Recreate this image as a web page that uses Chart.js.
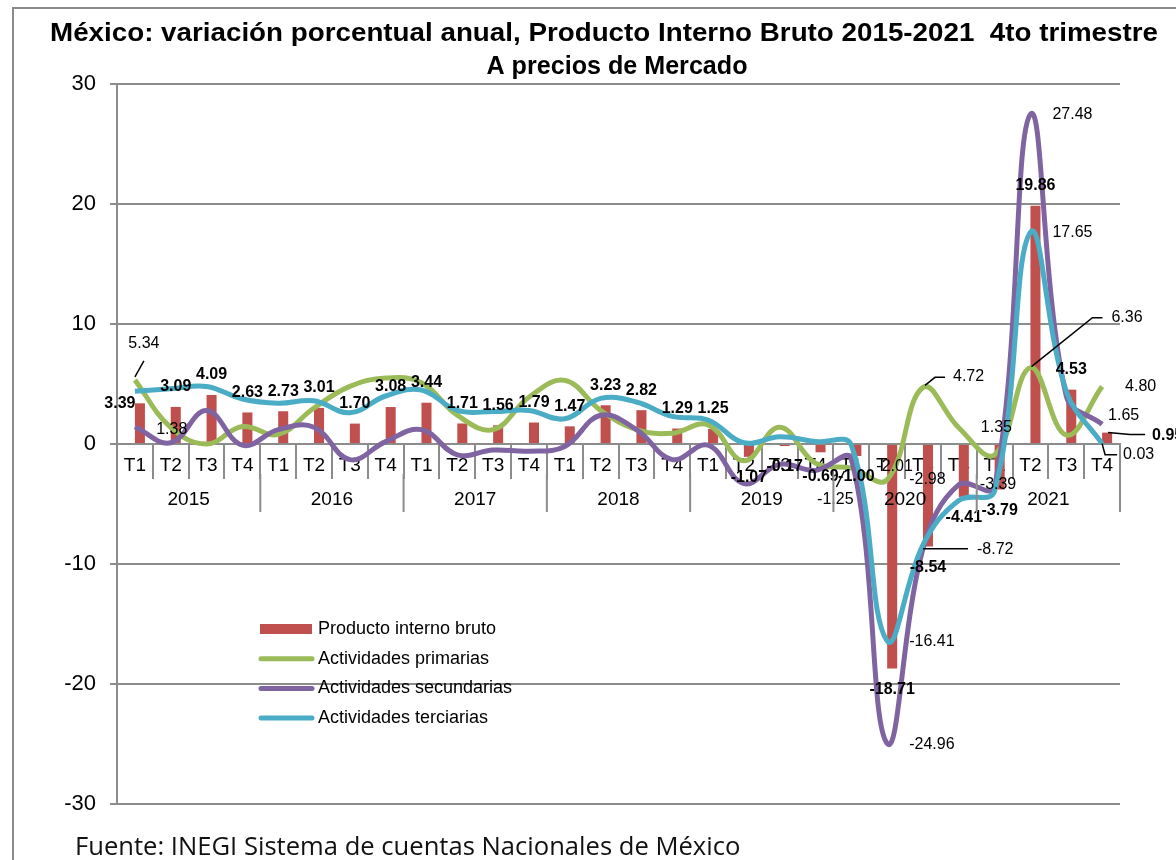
<!DOCTYPE html>
<html lang="es">
<head>
<meta charset="utf-8">
<title>México: variación porcentual anual, PIB 2015-2021</title>
<script src="https://cdn.jsdelivr.net/npm/chart.js@4.4.1/dist/chart.umd.min.js"></script>
<style>
  html, body { margin: 0; padding: 0; background: #fff; }
  #wrap { width: 1176px; height: 860px; position: relative; }
</style>
</head>
<body>
<div id="wrap"><canvas id="pibChart" width="1176" height="860"></canvas></div>
<script>
// Categories
const quarters = ['T1', 'T2', 'T3', 'T4', 'T1', 'T2', 'T3', 'T4', 'T1', 'T2', 'T3', 'T4',
                  'T1', 'T2', 'T3', 'T4', 'T1', 'T2', 'T3', 'T4', 'T1', 'T2', 'T3', 'T4',
                  'T1', 'T2', 'T3', 'T4'];
const years = ['2015', '2016', '2017', '2018', '2019', '2020', '2021'];

// Series (variación % anual)
const pib = [3.39, 3.09, 4.09, 2.63, 2.73, 3.01, 1.70, 3.08, 3.44, 1.71, 1.56, 1.79,
             1.47, 3.23, 2.82, 1.29, 1.25, -1.07, -0.17, -0.69, -1.00, -18.71, -8.54, -4.41,
             -3.79, 19.86, 4.53, 0.95];
const primarias = [5.34, 1.38, 0.0, 1.45, 0.8, 3.0, 4.8, 5.5, 5.1, 2.4, 1.2, 3.9,
                   5.3, 2.8, 1.2, 0.9, 1.6, -1.4, 1.4, -1.6, -2.01, -2.98, 4.72, 1.35,
                   -0.9, 6.36, 0.75, 4.80];
const secundarias = [1.44, 0.1, 2.8, -0.1, 1.2, 1.4, -1.3, 0.2, 1.2, -0.9, -0.5, -0.6,
                     -0.2, 2.4, 1.2, -1.3, -0.1, -3.3, -1.7, -2.2, -1.25, -24.96, -8.72, -3.39,
                     -3.6, 27.48, 4.0, 1.65];
const terciarias = [4.4, 4.6, 4.8, 3.75, 3.4, 3.6, 2.6, 4.0, 4.5, 2.8, 2.7, 2.8,
                    2.1, 3.8, 3.5, 2.3, 2.0, 0.1, 0.6, 0.2, -0.1, -16.41, -8.4, -4.7,
                    -3.9, 17.65, 4.4, 0.03];
const yMin = -30, yMax = 30, yStep = 10;

const colors = {
    pib: '#C0504D',
    primarias: '#9BBB59',
    secundarias: '#8064A2',
    terciarias: '#4BACC6'
};
const gridGray = '#8c8c8c';
const fontFam = '"Liberation Sans", Arial, sans-serif';

// dataset index of each serie
const dsIndex = { pib: 1, primarias: 2, secundarias: 3, terciarias: 4 };

// Bold labels of the PIB bars: default above / below the bar end, a few moved
const pibLabelMoves = {
    0: { dx: -20, dy: 0 },
    19: { dx: 0, dy: 24 },
    27: { dx: 45, dy: 3, align: 'left', leader: [[1, 0], [23, 2], [38, 2]] }
};

// Plain labels of the lines (offsets in px from the point)
const lineLabels = [
    { serie: 'primarias', i: 0, dx: 9, dy: -36, align: 'center', leader: [[0, -3], [9, -19]] },
    { serie: 'primarias', i: 1, dx: 1, dy: 2, align: 'center' },
    { serie: 'primarias', i: 20, dx: 25, dy: -2, align: 'left' },
    { serie: 'primarias', i: 21, dx: 22, dy: 0, align: 'left' },
    { serie: 'primarias', i: 22, dx: 30, dy: -11, align: 'left', leader: [[2, -2], [12, -10], [22, -10]] },
    { serie: 'primarias', i: 23, dx: 22, dy: 0, align: 'left' },
    { serie: 'primarias', i: 25, dx: 81, dy: -50, align: 'left', leader: [[1, -1], [62, -50], [72, -50]] },
    { serie: 'primarias', i: 27, dx: 23, dy: 0, align: 'left' },
    { serie: 'secundarias', i: 20, dx: -16, dy: 41, align: 'center', leader: [[-7, 12], [-15, 28]] },
    { serie: 'secundarias', i: 21, dx: 22, dy: 1, align: 'left' },
    { serie: 'secundarias', i: 22, dx: 54, dy: 1, align: 'left', leader: [[0, 0], [45, 0]] },
    { serie: 'secundarias', i: 23, dx: 21, dy: 0, align: 'left' },
    { serie: 'secundarias', i: 25, dx: 22, dy: 0, align: 'left' },
    { serie: 'secundarias', i: 27, dx: 6, dy: -9, align: 'left' },
    { serie: 'terciarias', i: 21, dx: 22, dy: 1, align: 'left' },
    { serie: 'terciarias', i: 25, dx: 22, dy: 0, align: 'left' },
    { serie: 'terciarias', i: 27, dx: 21, dy: 11, align: 'left', leader: [[0, 0], [3, 11], [15, 11]] }
];

const legendItems = [
    { text: 'Producto interno bruto', color: colors.pib, bar: true },
    { text: 'Actividades primarias', color: colors.primarias },
    { text: 'Actividades secundarias', color: colors.secundarias },
    { text: 'Actividades terciarias', color: colors.terciarias }
];

function fmt(v) {
    return v.toFixed(2);
}

function drawLeader(ctx, x, y, pts) {
    ctx.beginPath();
    pts.forEach((p, k) => {
        if (k === 0) ctx.moveTo(x + p[0], y + p[1]);
        else ctx.lineTo(x + p[0], y + p[1]);
    });
    ctx.strokeStyle = '#000';
    ctx.lineWidth = 1.5;
    ctx.stroke();
}

// text stretched sideways to the width it has in the original picture
function fitText(ctx, text, cx, cy, width) {
    const w = ctx.measureText(text).width;
    ctx.save();
    ctx.translate(cx, cy);
    ctx.scale(width / w, 1);
    ctx.textAlign = 'center';
    ctx.fillText(text, 0, 0);
    ctx.restore();
}

// frame, title and footnote
const decorPlugin = {
    id: 'decor',
    beforeDraw(chart) {
        const ctx = chart.ctx;
        ctx.save();
        ctx.fillStyle = '#fff';
        ctx.fillRect(0, 0, chart.width, chart.height);
        ctx.strokeStyle = '#8a8a8a';
        ctx.lineWidth = 2;
        ctx.strokeRect(13, 8, 1300, 1000);
        ctx.restore();
    },
    afterDraw(chart) {
        const ctx = chart.ctx;
        ctx.save();
        ctx.fillStyle = '#000';
        ctx.textBaseline = 'middle';
        ctx.font = 'bold 25px ' + fontFam;
        fitText(ctx, 'México: variación porcentual anual, Producto Interno Bruto 2015-2021  4to trimestre', 604, 34, 1108);
        fitText(ctx, 'A precios de Mercado', 617, 67, 261);

        // footnote, fitted to the width it has in the original
        const note = 'Fuente: INEGI Sistema de cuentas Nacionales de México';
        ctx.font = '22px "Open Sans", sans-serif';
        const w = ctx.measureText(note).width;
        const size = 22 * 665 / w;
        ctx.font = size.toFixed(1) + 'px "Open Sans", sans-serif';
        ctx.textAlign = 'left';
        ctx.fillStyle = '#111';
        ctx.fillText(note, 75, 848);
        ctx.restore();
    }
};

// year row under the quarters
const yearPlugin = {
    id: 'years',
    afterDraw(chart) {
        const ctx = chart.ctx;
        const xs = chart.scales.x;
        const zeroY = chart.scales.y.getPixelForValue(0);
        const step = (xs.getPixelForValue(1) - xs.getPixelForValue(0));
        ctx.save();
        ctx.strokeStyle = gridGray;
        ctx.lineWidth = 2;
        ctx.fillStyle = '#000';
        ctx.font = '19px ' + fontFam;
        ctx.textAlign = 'center';
        ctx.textBaseline = 'middle';
        years.forEach((yr, k) => {
            const first = xs.getPixelForValue(k * 4);
            const last = xs.getPixelForValue(k * 4 + 3);
            ctx.fillText(yr, (first + last) / 2, 500);
            const edge = last + step / 2;
            ctx.beginPath();
            ctx.moveTo(edge, zeroY + 30);
            ctx.lineTo(edge, zeroY + 68);
            ctx.stroke();
        });
        ctx.restore();
    }
};

// data labels and in-plot legend
const labelPlugin = {
    id: 'labels',
    afterDatasetsDraw(chart) {
        const ctx = chart.ctx;
        ctx.save();
        ctx.fillStyle = '#000';
        ctx.textBaseline = 'middle';

        // PIB, bold
        ctx.font = 'bold 16px ' + fontFam;
        chart.getDatasetMeta(dsIndex.pib).data.forEach((el, i) => {
            const v = pib[i];
            const m = pibLabelMoves[i] || {};
            const dx = m.dx !== undefined ? m.dx : 0;
            const dy = m.dy !== undefined ? m.dy : (v >= 0 ? -20 : 21);
            if (m.leader) drawLeader(ctx, el.x, el.y, m.leader);
            ctx.textAlign = m.align || 'center';
            ctx.fillText(fmt(v), el.x + dx, el.y + dy);
        });

        // lines, plain
        ctx.font = '16px ' + fontFam;
        const series = { primarias, secundarias, terciarias };
        lineLabels.forEach((lb) => {
            const el = chart.getDatasetMeta(dsIndex[lb.serie]).data[lb.i];
            if (lb.leader) drawLeader(ctx, el.x, el.y, lb.leader);
            ctx.textAlign = lb.align;
            ctx.fillText(fmt(series[lb.serie][lb.i]), el.x + lb.dx, el.y + lb.dy);
        });

        // legend
        ctx.font = '18px ' + fontFam;
        ctx.textAlign = 'left';
        legendItems.forEach((it, k) => {
            const y = 629 + k * 29.7;
            if (it.bar) {
                ctx.fillStyle = it.color;
                ctx.fillRect(260, y - 5, 52, 10);
            } else {
                ctx.strokeStyle = it.color;
                ctx.lineWidth = 5;
                ctx.lineCap = 'round';
                ctx.beginPath();
                ctx.moveTo(261, y);
                ctx.lineTo(312, y);
                ctx.stroke();
            }
            ctx.fillStyle = '#000';
            ctx.fillText(it.text, 318, y);
        });
        ctx.restore();
    }
};

const lineStyle = {
    type: 'line',
    borderWidth: 5,
    pointRadius: 0,
    tension: 0.4,
    fill: false
};

const ctx = document.getElementById('pibChart').getContext('2d');
const pibChart = new Chart(ctx, {
    type: 'bar',
    data: {
        labels: quarters,
        datasets: [
            // empty first bar slot, as in the original the PIB bar sits right of centre
            { label: '', data: quarters.map(() => null), order: 3, backgroundColor: 'rgba(0,0,0,0)' },
            { label: 'Producto interno bruto', data: pib, order: 3, backgroundColor: colors.pib },
            { ...lineStyle, label: 'Actividades primarias', data: primarias, order: 2, borderColor: colors.primarias },
            { ...lineStyle, label: 'Actividades secundarias', data: secundarias, order: 1, borderColor: colors.secundarias },
            { ...lineStyle, label: 'Actividades terciarias', data: terciarias, order: 0, borderColor: colors.terciarias }
        ]
    },
    options: {
        responsive: false,
        animation: false,
        devicePixelRatio: 1,
        layout: { padding: { top: 84, right: 56, bottom: 56, left: 0 } },
        datasets: {
            bar: { categoryPercentage: 0.56, barPercentage: 1 }
        },
        plugins: {
            legend: { display: false },
            tooltip: { enabled: false },
            title: { display: false }
        },
        scales: {
            x: {
                position: { y: 0 },
                offset: true,
                grid: { offset: true, drawOnChartArea: false, drawTicks: true, tickLength: 34, color: gridGray, lineWidth: 2 },
                border: { display: true, color: gridGray, width: 2 },
                ticks: { color: '#000', font: { family: fontFam, size: 19 }, padding: -24, maxRotation: 0, autoSkip: false }
            },
            y: {
                min: yMin,
                max: yMax,
                ticks: { stepSize: yStep, color: '#000', font: { family: fontFam, size: 22 }, padding: 14 },
                grid: { color: gridGray, lineWidth: 2, tickLength: 7, drawTicks: true },
                border: { display: true, color: gridGray, width: 2 },
                afterFit: (scale) => { scale.width = 117; }
            }
        }
    },
    plugins: [decorPlugin, yearPlugin, labelPlugin]
});
</script>
</body>
</html>
